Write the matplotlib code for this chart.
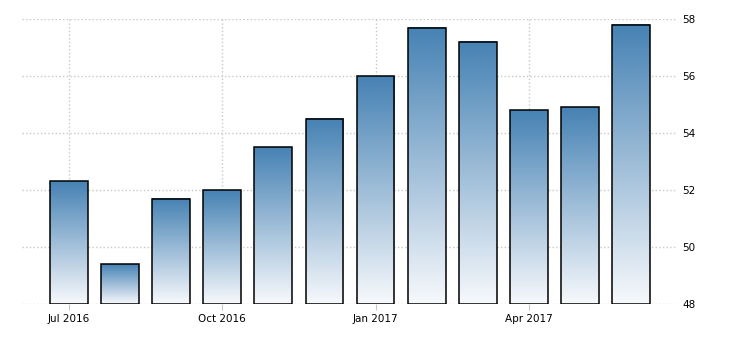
import matplotlib.pyplot as plt
import numpy as np
from matplotlib.colors import LinearSegmentedColormap

months = ['2016-07', '2016-08', '2016-09', '2016-10', '2016-11', '2016-12',
          '2017-01', '2017-02', '2017-03', '2017-04', '2017-05', '2017-06']
values = [52.3, 49.4, 51.7, 52.0, 53.5, 54.5, 56.0, 57.7, 57.2, 54.8, 54.9, 57.8]
tick_labels = ['Jul 2016', 'Oct 2016', 'Jan 2017', 'Apr 2017']
tick_idx = [0, 3, 6, 9]
y_ticks = [48, 50, 52, 54, 56, 58]

fig = plt.figure(figsize=(7.3, 3.4), dpi=100)
ax = fig.add_axes([22 / 730, 36 / 340, 655 / 730, 285 / 340])

cmap = LinearSegmentedColormap.from_list('grad', ['#f7f9fc', '#4682b4'])
grad = np.linspace(0, 1, 256).reshape(-1, 1)
width = 0.74
base = 48

x = np.arange(len(values))
for xi, v in zip(x, values):
    ax.imshow(grad, extent=[xi - width / 2, xi + width / 2, base, v],
              origin='lower', aspect='auto', cmap=cmap, zorder=2)
ax.bar(x, [v - base for v in values], width, bottom=base, facecolor='none',
       edgecolor='black', linewidth=1.1, zorder=3)

ax.set_xlim(-0.92, len(values) - 0.1)
ax.set_ylim(48, 58)
ax.set_yticks(y_ticks)
ax.set_xticks(tick_idx)
ax.set_xticklabels(tick_labels)
ax.yaxis.tick_right()
ax.tick_params(axis='y', length=0, pad=4, labelsize=7.5)
ax.tick_params(axis='x', length=4, color='#c8c8c8', pad=3, labelsize=7.5)
ax.grid(True, color='#c8c8c8', linestyle=':', linewidth=1, zorder=0)
for s in ax.spines.values():
    s.set_visible(False)
ax.set_axisbelow(True)

plt.savefig('out.png', dpi=100)
